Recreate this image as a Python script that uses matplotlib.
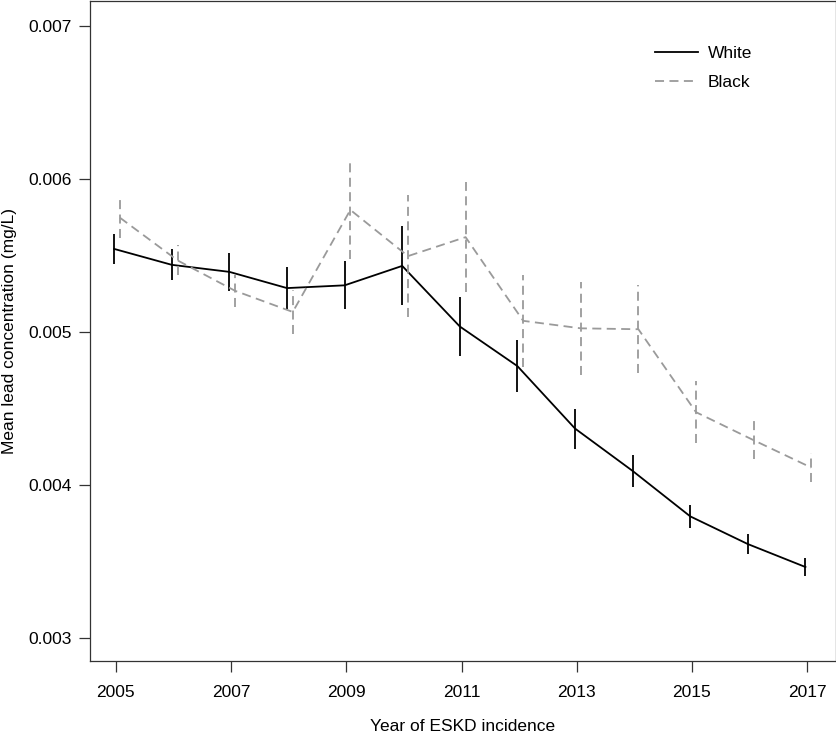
import numpy as np
import matplotlib
matplotlib.use("Agg")
import matplotlib.pyplot as plt

plt.rcParams['font.family'] = ['Liberation Sans', 'DejaVu Sans']

years = np.arange(2005, 2018)

# mean lead concentration (mg/L) and half-width of the 95% CI
white_mean = [0.005541, 0.005437, 0.005391, 0.005285, 0.005303, 0.005430, 0.005034,
              0.004775, 0.004367, 0.004090, 0.003793, 0.003612, 0.003462]
white_ci = [0.000100, 0.000101, 0.000125, 0.000135, 0.000157, 0.000258, 0.000193,
            0.000169, 0.000131, 0.000103, 0.000074, 0.000065, 0.000057]
black_mean = [0.005745, 0.005466, 0.005267, 0.005129, 0.005796, 0.005494, 0.005618,
              0.005071, 0.005022, 0.005016, 0.004474, 0.004291, 0.004112]
black_ci = [0.000135, 0.000098, 0.000104, 0.000146, 0.000323, 0.000397, 0.000359,
            0.000302, 0.000302, 0.000288, 0.000204, 0.000125, 0.000097]

x_ticks = [2005, 2007, 2009, 2011, 2013, 2015, 2017]
y_ticks = [0.003, 0.004, 0.005, 0.006, 0.007]

fig = plt.figure(figsize=(8.37, 7.40), dpi=100)
ax = fig.add_axes([0.1075, 0.1068, 0.8913, 0.8922])

xw = years - 0.03
xb = years + 0.07
grey = '#9a9a9a'

ax.plot(xw, white_mean, color='black', lw=1.3, label='White')
ax.vlines(xw, np.array(white_mean) - np.array(white_ci),
          np.array(white_mean) + np.array(white_ci), color='black', lw=1.3)
ax.plot(xb, black_mean, color=grey, lw=1.3, ls=(0, (5, 3)), label='Black')
ax.vlines(xb, np.array(black_mean) - np.array(black_ci),
          np.array(black_mean) + np.array(black_ci), color=grey, lw=1.3,
          linestyles=[(0, (5, 3))])

ax.set_xlim(2004.55, 2017.5)
ax.set_ylim(0.002848, 0.007163)
ax.set_xticks(x_ticks)
ax.set_yticks(y_ticks)
ax.set_yticklabels(['%.3f' % v for v in y_ticks])
ax.tick_params(axis='both', direction='out', length=8, width=0.9, labelsize=12.5,
               color='#333333')
ax.tick_params(axis='y', pad=5)
ax.tick_params(axis='x', pad=9)
for s in ax.spines.values():
    s.set_linewidth(0.9)
    s.set_color('#333333')

ax.set_xlabel('Year of ESKD incidence', fontsize=12.5, labelpad=14)
ax.set_ylabel('Mean lead concentration (mg/L)', fontsize=12.5, labelpad=8)

ax.legend(loc='upper left', bbox_to_anchor=(0.757, 0.931), frameon=False,
          borderpad=0, borderaxespad=0, fontsize=12.5, handlelength=2.5,
          handletextpad=0.55, labelspacing=0.8)

fig.savefig('out.png', dpi=100)
